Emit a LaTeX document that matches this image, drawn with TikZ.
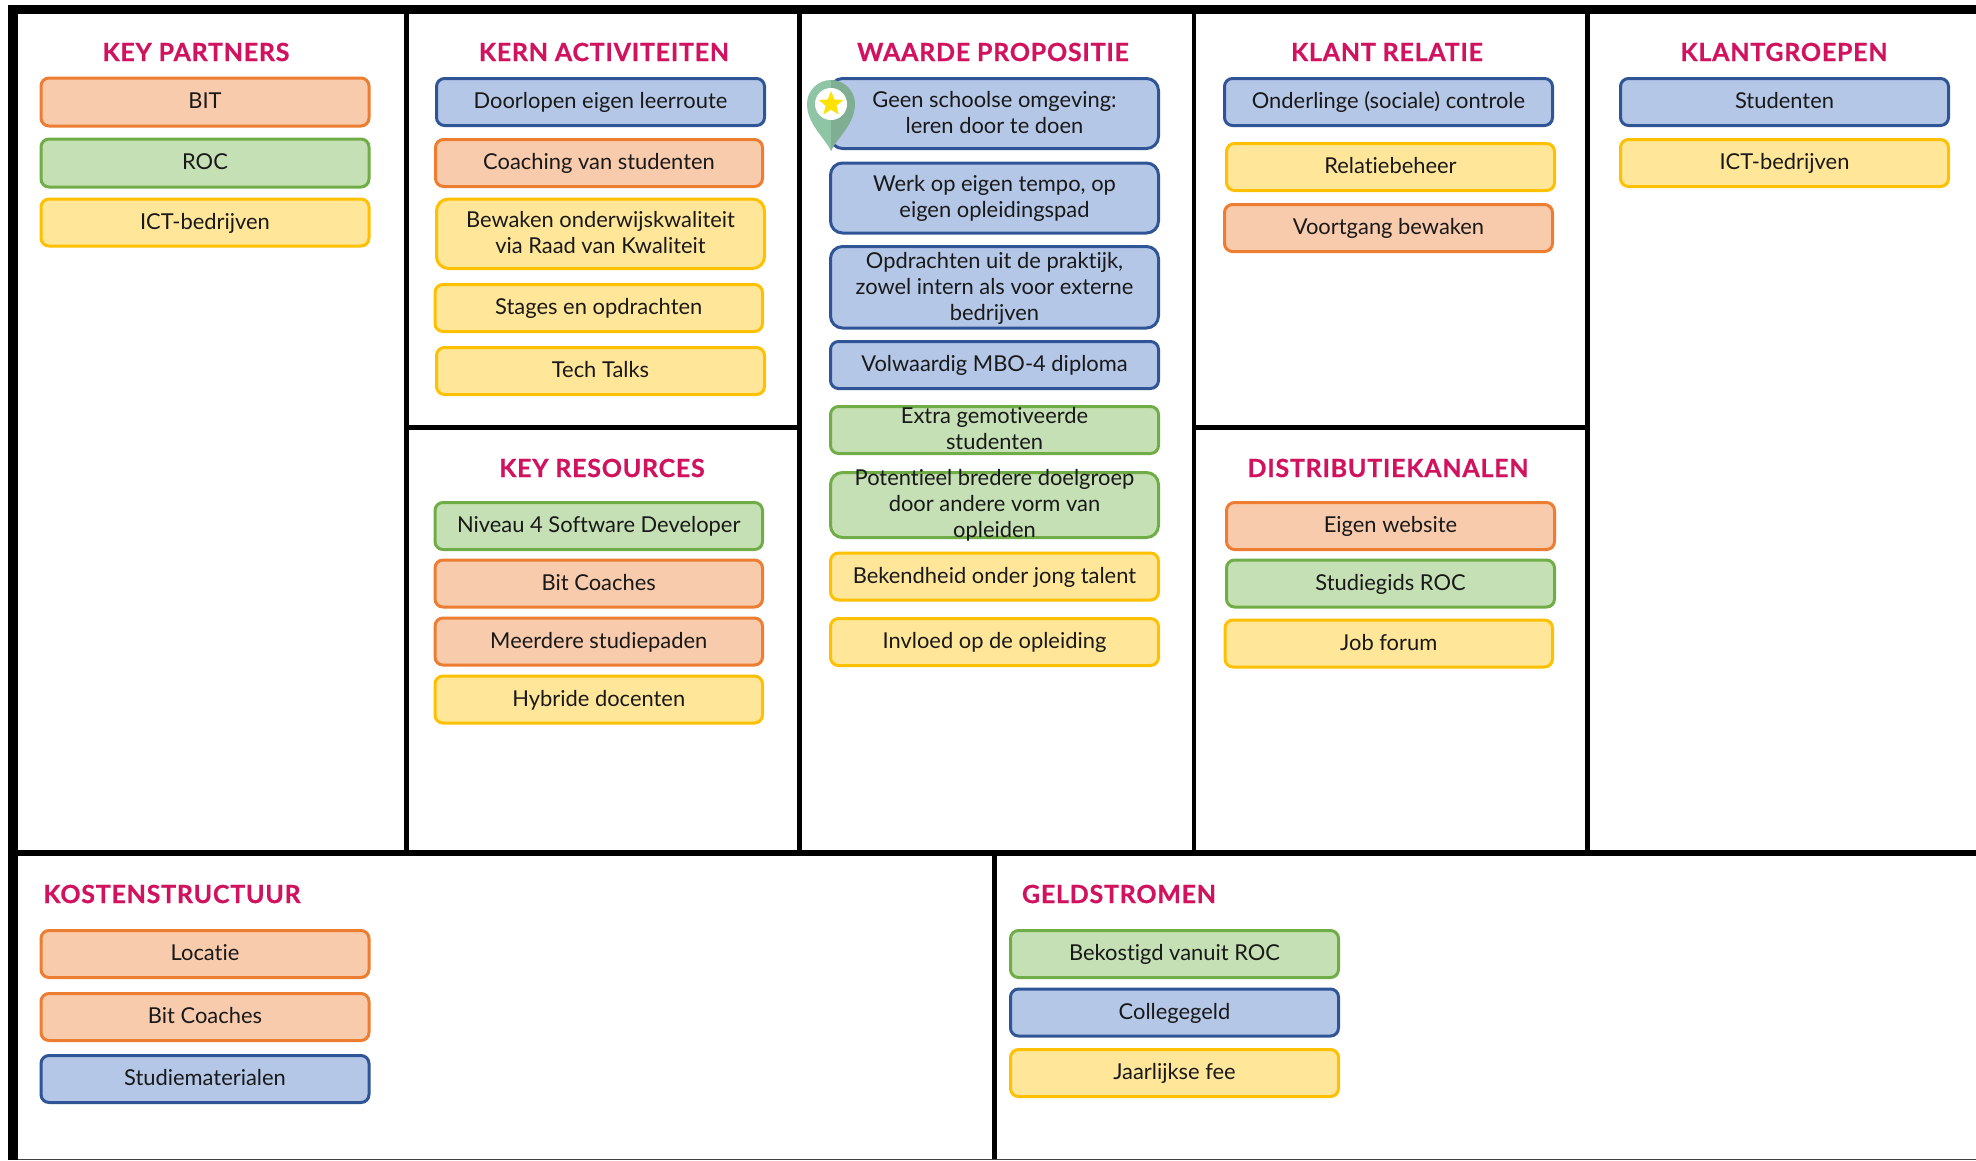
\documentclass[tikz,border=0pt]{standalone}
\usepackage{fontspec}
\setmainfont{Lato}[Ligatures=NoCommon]
\newfontfamily\ttlfont{Lato}[LetterSpace=3,BoldFeatures={FakeBold=0.6}]
\usetikzlibrary{shapes.geometric}
\definecolor{orF}{HTML}{F8CBAD}\definecolor{orD}{HTML}{ED7D31}
\definecolor{grF}{HTML}{C5E0B4}\definecolor{grD}{HTML}{70AD47}
\definecolor{yeF}{HTML}{FFE699}\definecolor{yeD}{HTML}{FFC000}
\definecolor{blF}{HTML}{B4C7E7}\definecolor{blD}{HTML}{2F5597}
\definecolor{ttl}{HTML}{D1125F}
\definecolor{pinL}{HTML}{8EC5A4}\definecolor{pinR}{HTML}{80AE93}
\tikzset{
  cardbox/.style={rectangle,rounded corners=8pt,line width=3pt,inner sep=0pt,outer sep=0pt,
    font=\fontsize{21.9}{26}\selectfont,text=black!90},
  orangecard/.style={cardbox,draw=orD,fill=orF},
  greencard/.style={cardbox,draw=grD,fill=grF},
  yellowcard/.style={cardbox,draw=yeD,fill=yeF},
  bluecard/.style={cardbox,draw=blD,fill=blF},
  tall/.style={rounded corners=12pt},
  title/.style={inner sep=0pt,text=ttl,font=\ttlfont\fontsize{25}{28}\bfseries\selectfont},
  bar/.style={fill=black}
}
\newcommand{\card}[7][]{%
  \pgfmathsetmacro\cardx{(#3+#5)/2}\pgfmathsetmacro\cardy{(#4+#6)/2}%
  \pgfmathsetmacro\cardw{#5-#3-3}\pgfmathsetmacro\cardh{#6-#4-3}%
  \node[#1,minimum width=\cardw pt,minimum height=\cardh pt] (#2) at (\cardx,\cardy)
    {\raisebox{-6.75pt}[0pt][0pt]{\begin{tabular}{@{}c@{}}#7\end{tabular}}};}
\begin{document}
\begin{tikzpicture}[x=1pt,y=-1pt]
\useasboundingbox (0,0) rectangle (1976,1160);
\fill[white] (0,0) rectangle (1976,1160);
% frame
\fill[bar] (8,5) rectangle (1976,14);
\fill[bar] (8,5) rectangle (18,1160);
\fill[bar] (18,850) rectangle (1976,856);
\fill[bar] (404,14) rectangle (408.5,850);
\fill[bar] (797,14) rectangle (802,850);
\fill[bar] (1191.5,14) rectangle (1196,850);
\fill[bar] (1585,14) rectangle (1589.5,850);
\fill[bar] (992,856) rectangle (997,1160);
\fill[bar] (404,425) rectangle (802,430);
\fill[bar] (1192,425) rectangle (1589,430);
\fill[black!75] (18,1158.5) rectangle (1976,1160);
% titles
\node[title] (t1) at (196,52) {KEY PARTNERS};
\node[title] (t2) at (604,52) {KERN ACTIVITEITEN};
\node[title] (t3) at (993,52) {WAARDE PROPOSITIE};
\node[title] (t4) at (1387,52) {KLANT RELATIE};
\node[title] (t5) at (1784,52) {KLANTGROEPEN};
\node[title] (t6) at (602,468) {KEY RESOURCES};
\node[title] (t7) at (1388,468) {DISTRIBUTIEKANALEN};
\node[title] (t8) at (172,894) {KOSTENSTRUCTUUR};
\node[title] (t9) at (1119,894) {GELDSTROMEN};
% key partners
\card[orangecard]{a1}{39.5}{76.5}{370.5}{127.5}{BIT}
\card[greencard]{a2}{39.5}{137.5}{370.5}{188.5}{ROC}
\card[yellowcard]{a3}{39.5}{197.5}{370.5}{247.5}{ICT-bedrijven}
% kern activiteiten
\card[bluecard]{b1}{435}{77}{766}{127}{Doorlopen eigen leerroute}
\card[orangecard]{b2}{434}{138}{764}{188}{Coaching van studenten}
\card[yellowcard,tall]{b3}{435}{197.5}{766}{270}{Bewaken onderwijskwaliteit\\via Raad van Kwaliteit}
\card[yellowcard]{b4}{433.5}{283}{764}{333}{Stages en opdrachten}
\card[yellowcard]{b5}{435}{346}{766}{396}{Tech Talks}
% key resources
\card[greencard]{c1}{433.5}{501}{764}{551}{Niveau 4 Software Developer}
\card[orangecard]{c2}{433.5}{558.5}{764}{608.5}{Bit Coaches}
\card[orangecard]{c3}{433.5}{616.5}{764}{666.5}{Meerdere studiepaden}
\card[yellowcard]{c4}{433.5}{674.5}{764}{724.5}{Hybride docenten}
% waarde propositie
\card[bluecard,tall]{d1}{829}{77}{1160}{150}{Geen schoolse omgeving:\\leren door te doen}
\card[bluecard,tall]{d2}{829}{161.5}{1160}{234.5}{Werk op eigen tempo, op\\eigen opleidingspad}
\card[bluecard,tall]{d3}{829}{245}{1160}{329.5}{Opdrachten uit de praktijk,\\zowel intern als voor externe\\bedrijven}
\card[bluecard]{d4}{829}{340}{1160}{390}{Volwaardig MBO-4 diploma}
\card[greencard]{d5}{829}{405}{1160}{455}{Extra gemotiveerde\\studenten}
\card[greencard,tall]{d6}{829}{471}{1160}{539}{Potentieel bredere doelgroep\\door andere vorm van\\opleiden}
\card[yellowcard]{d7}{829}{551.5}{1160}{601.5}{Bekendheid onder jong talent}
\card[yellowcard]{d8}{829}{617}{1160}{667}{Invloed op de opleiding}
% pin
\fill[pinL] (831,80) .. controls (817.75,80) and (807,90.75) .. (807,104)
  .. controls (807,124) and (825,138) .. (831,151) -- cycle;
\fill[pinR] (831,80) .. controls (844.25,80) and (855,90.75) .. (855,104)
  .. controls (855,124) and (837,138) .. (831,151) -- cycle;
\node[circle,fill=white,minimum size=32pt,inner sep=0pt] (pinc) at (831,104) {};
\node[star,star points=5,star point ratio=2.3,fill=yellow!85!orange,minimum size=26pt,inner sep=0pt] (pins) at (pinc.center) {};
% klant relatie
\card[bluecard]{e1}{1223}{77}{1554}{127}{Onderlinge (sociale) controle}
\card[yellowcard]{e2}{1225}{142}{1556}{192}{Relatiebeheer}
\card[orangecard]{e3}{1223}{203}{1554}{253}{Voortgang bewaken}
% distributiekanalen
\card[orangecard]{f1}{1225}{501}{1556}{551}{Eigen website}
\card[greencard]{f2}{1225}{558.5}{1556}{608.5}{Studiegids ROC}
\card[yellowcard]{f3}{1223.5}{618.5}{1554}{668.5}{Job forum}
% klantgroepen
\card[bluecard]{g1}{1619}{77}{1950}{127}{Studenten}
\card[yellowcard]{g2}{1619}{138}{1950}{188}{ICT-bedrijven}
% kostenstructuur
\card[orangecard]{h1}{39.5}{929}{370.5}{979}{Locatie}
\card[orangecard]{h2}{39.5}{992}{370.5}{1042}{Bit Coaches}
\card[bluecard]{h3}{39.5}{1054}{370.5}{1104}{Studiematerialen}
% geldstromen
\card[greencard]{i1}{1009}{929}{1340}{979}{Bekostigd vanuit ROC}
\card[bluecard]{i2}{1009}{987.5}{1340}{1037.5}{Collegegeld}
\card[yellowcard]{i3}{1009}{1048}{1340}{1098}{Jaarlijkse fee}
\end{tikzpicture}
\end{document}
